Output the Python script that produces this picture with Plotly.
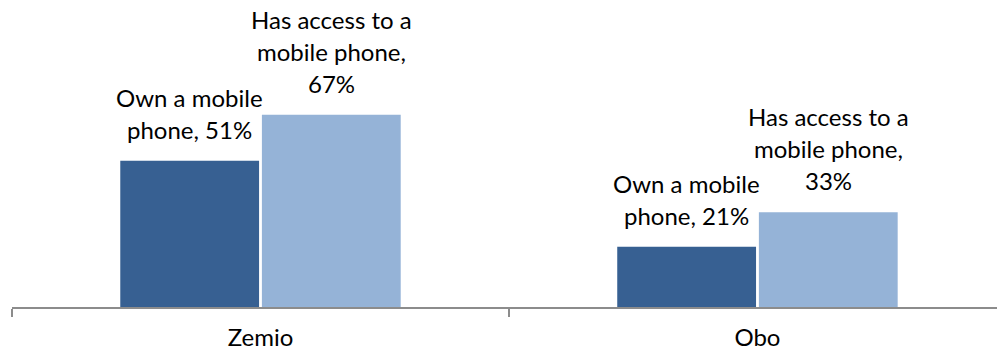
import plotly.graph_objects as go

# Survey results: mobile phone ownership and access by town
towns = ["Zemio", "Obo"]
own_phone = [51, 21]
access_phone = [67, 33]

series = [
    {"name": "Own a mobile phone", "values": own_phone, "color": "#376092",
     "label_lines": ["Own a mobile", "phone, {v}%"]},
    {"name": "Has access to a mobile phone", "values": access_phone, "color": "#95B3D7",
     "label_lines": ["Has access to a", "mobile phone,", "{v}%"]},
]

FONT = "Lato, 'Open Sans', sans-serif"
LABEL_SIZE = 24
LINE_STEP = 32   # vertical distance between label lines, px
BAR_OFFSET = 71  # horizontal distance of each bar centre from the category centre, px
BASE_SHIFT = 15  # gap between bar top and the bottom label line, px

fig = go.Figure()
for s in series:
    fig.add_trace(go.Bar(
        x=towns, y=s["values"], name=s["name"],
        marker=dict(color=s["color"], line=dict(width=0)),
        hoverinfo="x+y",
    ))

# Multi-line data labels above each bar
annotations = []
for k, s in enumerate(series):
    dx = -BAR_OFFSET if k == 0 else BAR_OFFSET
    for town, v in zip(towns, s["values"]):
        lines = [ln.format(v=v) for ln in s["label_lines"]]
        n = len(lines)
        for i, ln in enumerate(lines):
            annotations.append(dict(
                x=town, y=v, xref="x", yref="y",
                text=ln, showarrow=False,
                xshift=dx, yshift=BASE_SHIFT + (n - 1 - i) * LINE_STEP,
                yanchor="bottom", xanchor="center",
                font=dict(family=FONT, size=LABEL_SIZE, color="#000000"),
            ))

fig.update_layout(
    width=997, height=351,
    margin=dict(l=12, r=0, t=20, b=44),
    paper_bgcolor="white", plot_bgcolor="white",
    barmode="group", bargap=0.43, bargroupgap=0.02,
    showlegend=False,
    annotations=annotations,
    font=dict(family=FONT, size=LABEL_SIZE, color="#000000"),
)
fig.update_xaxes(
    range=[-0.5, 1.482], automargin=False,
    showline=True, linecolor="#8c8c8c", linewidth=1.5,
    ticks="outside", tickson="boundaries", ticklen=8, tickcolor="#8c8c8c", tickwidth=1.5,
    ticklabelstandoff=8,
    showgrid=False, zeroline=False,
    tickfont=dict(family=FONT, size=LABEL_SIZE, color="#000000"),
)
fig.update_yaxes(
    range=[0, 100], visible=False, showgrid=False, zeroline=False, automargin=False,
)

fig.write_html("out.html")
